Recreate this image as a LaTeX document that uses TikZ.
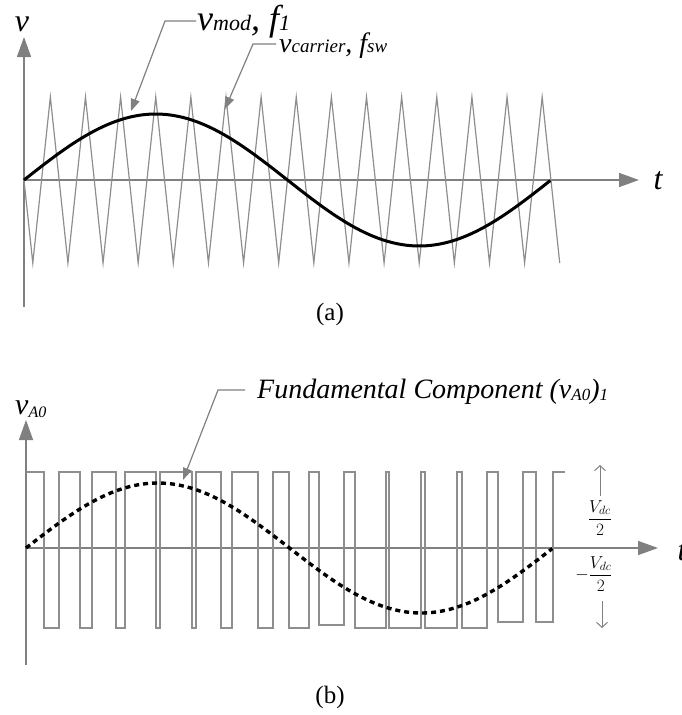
\documentclass[tikz,border=0pt]{standalone}
\usepackage{fontspec}
\setmainfont{Liberation Serif}
\usetikzlibrary{arrows.meta}
\definecolor{axgray}{RGB}{128,128,128}
\definecolor{carrgray}{RGB}{142,142,142}
\newcommand{\lsig}[4]{{\fontsize{#1}{#1}\selectfont\itshape #3}{\fontsize{#2}{#2}\selectfont\itshape #4}}
\tikzset{
  ax/.style={draw=axgray,line width=1.5pt,-{Triangle[length=20pt,width=14pt]}},
  carr/.style={draw=carrgray,line width=1.2pt},
  modsig/.style={black,line width=3pt},
  pwm/.style={draw=carrgray,line width=1.6pt},
  fund/.style={black,line width=3.4pt,dash pattern=on 5pt off 4pt},
  lead/.style={draw=axgray,line width=1.2pt,-{Triangle[length=12pt,width=9pt]}},
  lvl/.style={draw=axgray,line width=1pt,-{Straight Barb[length=5pt,width=11pt]}},
  subcap/.style={font=\fontsize{25}{25}\selectfont}
}
\begin{document}
\begin{tikzpicture}[x=1pt,y=-1pt]
  \useasboundingbox (0,0) rectangle (681,715);
  % (a)
  \coordinate (Oa) at (24,180);
  \draw[ax] (24,307) -- (24,37);
  \draw[ax] (Oa) -- (639,180);
  \draw[carr] (Oa) \foreach \k in {0,...,14} { -- ({24+(\k+0.25)*35.13},263) -- ({24+(\k+0.75)*35.13},97) } -- ({24+15.25*35.13},263);
  \draw[modsig] plot[domain=0:1,samples=120] ({24+527*\x},{180-66*sin(360*\x)});
  \node (va) at (22,24) {\fontsize{32}{32}\selectfont\itshape v};
  \node (ta) at (658,181) {\fontsize{32}{32}\selectfont\itshape t};
  \node[anchor=base west,inner sep=0] (modlbl) at (197,30) {\lsig{36}{22}{v}{mod}\lsig{36}{22}{, f}{1}};
  \node[anchor=base west,inner sep=0] (carlbl) at (279,52) {\lsig{28}{19}{v}{carrier}\lsig{28}{19}{, f}{sw}};
  \coordinate (modbend) at (165,21);
  \coordinate (modtip) at (131,111);
  \coordinate (carbend) at (253,44);
  \coordinate (cartip) at (225,109);
  \draw[lead] ([shift={(-1,-9)}]modlbl.base west) -- (modbend) -- (modtip);
  \draw[lead] ([shift={(-3,-8)}]carlbl.base west) -- (carbend) -- (cartip);
  \node[subcap] (capa) at (330,314) {(a)};
  % (b)
  \coordinate (Ob) at (26,548);
  \draw[ax] (26,665) -- (26,420);
  \draw[ax] (Ob) -- (658,548);
  \draw[pwm] (26,472) \foreach \a/\b/\l in {44/59/628,80/92/628,116/125/628,156/160/628,192/196/628,221/232/628,258/273/628,289/309/628,319/344/625,355/386/628,389/421/628,425/457/628,462/487/628,498/523/622,536/553/622} { -- (\a,472) -- (\a,\l) -- (\b,\l) -- (\b,472) } -- (565,472);
  \draw[fund] plot[domain=0:1,samples=120] ({26+527*\x},{548-65*sin(360*\x)});
  \node[anchor=base west,inner sep=0] (vb) at (15,414) {\fontsize{30}{30}\selectfont\itshape v\raisebox{-3pt}{\fontsize{16}{16}\selectfont A0}};
  \node (tb) at (682,552) {\fontsize{32}{32}\selectfont\itshape t};
  \node[anchor=base west,inner sep=0] (fundlbl) at (257,398) {\fontsize{28}{28}\selectfont\itshape Fundamental Component (v\raisebox{-2pt}{\fontsize{17}{17}\selectfont A0})\raisebox{-2pt}{\fontsize{17}{17}\selectfont 1}};
  \coordinate (fundbend) at (218,390);
  \coordinate (fundtip) at (183,480);
  \draw[lead] ([shift={(-12,-8)}]fundlbl.base west) -- (fundbend) -- (fundtip);
  \node (vdc) at (600,518) {\fontsize{18}{18}\selectfont$\displaystyle\frac{V_{dc}}{2}$};
  \node (mvdc) at (594,574) {\fontsize{18}{18}\selectfont$\displaystyle-\frac{V_{dc}}{2}$};
  \coordinate (uptop) at (600,465);
  \coordinate (upbot) at (600,496);
  \coordinate (dntop) at (602,601);
  \coordinate (dnbot) at (602,628);
  \draw[lvl] (upbot) -- (uptop);
  \draw[lvl] (dntop) -- (dnbot);
  \node[subcap] (capb) at (330,697) {(b)};
\end{tikzpicture}
\end{document}
